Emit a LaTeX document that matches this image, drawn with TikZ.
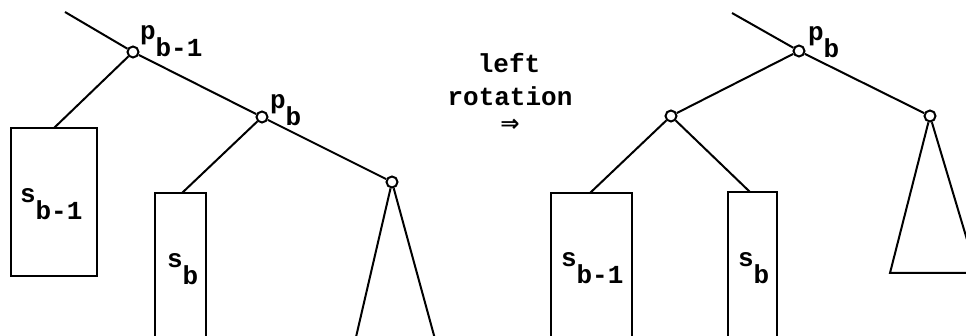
\documentclass[tikz,border=0pt]{standalone}
\usepackage{fontspec}
\setmainfont{Liberation Mono}
\newfontfamily\arrowfont{DejaVu Sans}
\newcommand{\lowsub}[2]{#1\raisebox{-17pt}{#2}}
\begin{document}
\begin{tikzpicture}[x=1pt,y=-1pt,line width=2pt,
  vtx/.style={circle,draw,fill=white,inner sep=0pt,minimum size=11pt,line width=2pt},
  subtree/.style={draw,rectangle,inner sep=0pt,line width=2pt},
  lbl/.style={anchor=base west,inner sep=0pt,font=\fontsize{26}{30}\selectfont\bfseries},
  captxt/.style={anchor=base,inner sep=0pt,font=\fontsize{26}{30}\selectfont\bfseries}]
\useasboundingbox (0,0) rectangle (966,336);
\clip (0,0) rectangle (966,336);
% ---------- left tree ----------
\coordinate (ltop) at (65,12);
\node[vtx] (lp1) at (133,52) {};
\node[vtx] (lp2) at (262,117) {};
\node[vtx] (lc3) at (392,182) {};
\node[subtree,minimum width=86pt,minimum height=148pt] (lbox1) at (53.5,202) {};
\node[subtree,minimum width=51pt,minimum height=200pt] (lbox2) at (180.5,293) {};
\coordinate (la1) at (54,128);
\coordinate (la2) at (182,193);
\coordinate (ltl) at (353,350);
\coordinate (ltr) at (438,350);
\draw (ltop) -- (lp1);
\draw (lp1) -- (lp2);
\draw (lp2) -- (lc3);
\draw (lp1) -- (la1);
\draw (lp2) -- (la2);
\draw (lc3) -- (ltl);
\draw (lc3) -- (ltr);
\node[lbl] (lpl1) at (139,40) {\lowsub{p}{b-1}};
\node[lbl] (lpl2) at (269,109) {\lowsub{p}{b}};
\node[lbl] (lsl1) at (19,203) {\lowsub{s}{b-1}};
\node[lbl] (lsl2) at (166,268) {\lowsub{s}{b}};
% ---------- caption ----------
\node[captxt] (t1) at (509,73) {left};
\node[captxt] (t2) at (510,106) {rotation};
\node[anchor=base,inner sep=0pt,font=\fontsize{23}{24}\arrowfont\bfseries] (t3) at (510,132) {⇒};
% ---------- right tree ----------
\coordinate (rtop) at (732,13);
\node[vtx] (rp) at (799,51) {};
\node[vtx] (rl) at (671,116) {};
\node[vtx] (rr) at (930,116) {};
\node[subtree,minimum width=81pt,minimum height=200pt] (rbox1) at (591.5,293) {};
\node[subtree,minimum width=49pt,minimum height=200pt] (rbox2) at (752.5,292) {};
\coordinate (ra1) at (590,193);
\coordinate (ra2) at (750,192);
\coordinate (rtl) at (890,273);
\coordinate (rtr) at (977,273);
\draw (rtop) -- (rp);
\draw (rp) -- (rl);
\draw (rp) -- (rr);
\draw (rl) -- (ra1);
\draw (rl) -- (ra2);
\draw (rr) -- (rtl) -- (rtr) -- (rr);
\node[lbl] (rpl) at (807,41) {\lowsub{p}{b}};
\node[lbl] (rsl1) at (560,267) {\lowsub{s}{b-1}};
\node[lbl] (rsl2) at (737,267) {\lowsub{s}{b}};
\end{tikzpicture}
\end{document}
